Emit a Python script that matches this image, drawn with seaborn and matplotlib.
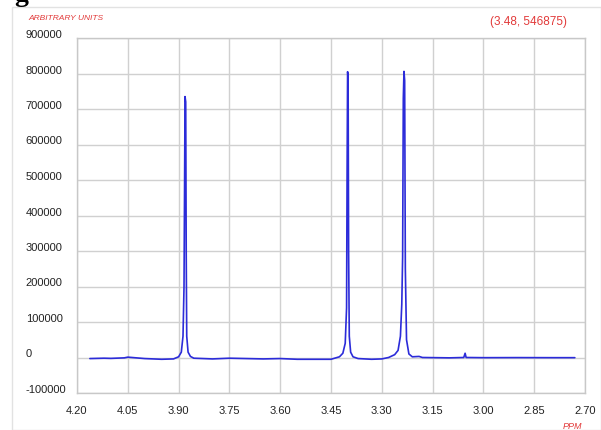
import matplotlib
matplotlib.use("Agg")
import matplotlib.pyplot as plt
from matplotlib.transforms import ScaledTranslation
from matplotlib.patches import Rectangle
import seaborn as sns
import pandas as pd

# ---- data ----
ppm = [4.162, 4.12, 4.10, 4.06, 4.05, 4.00, 3.95, 3.915, 3.90, 3.892, 3.887, 3.884,
       3.8825, 3.881, 3.879, 3.8775, 3.876, 3.872, 3.865, 3.855, 3.80, 3.75, 3.70,
       3.65, 3.60, 3.55, 3.50, 3.45, 3.425, 3.415, 3.408, 3.404, 3.4025, 3.401,
       3.3995, 3.398, 3.396, 3.392, 3.385, 3.37, 3.33, 3.30, 3.28, 3.262, 3.252,
       3.245, 3.241, 3.2385, 3.2365, 3.2345, 3.2325, 3.2305, 3.227, 3.22, 3.21,
       3.19, 3.18, 3.10, 3.058, 3.054, 3.051, 3.00, 2.90, 2.80, 2.73]
intensity = [-3000, -2000, -2500, -1000, 1000, -3000, -5000, -4000, 2000, 15000,
             60000, 200000, 459000, 735000, 720000, 290000, 60000, 15000, 3000,
             -2000, -4000, -2000, -3000, -4000, -3000, -5000, -5000, -5000, 2000,
             12000, 40000, 140000, 515000, 805000, 790000, 300000, 60000, 15000,
             2000, -3000, -5000, -4000, 0, 8000, 20000, 60000, 150000, 282000,
             730000, 806000, 780000, 250000, 50000, 10000, 2000, 3000, 0, -1000,
             0, 12000, 0, -500, -300, -500, -500]

yticks = [-100000, 0, 100000, 200000, 300000, 400000, 500000, 600000, 700000, 800000, 900000]
xticks = [4.20, 4.05, 3.90, 3.75, 3.60, 3.45, 3.30, 3.15, 3.00, 2.85, 2.70]
xticklabels = ["4.20", "4.05", "3.90", "3.75", "3.60", "3.45", "3.30", "3.15", "3.00", "2.85", "2.70"]

df = pd.DataFrame({"ppm": ppm, "intensity": intensity})

sns.set_style("white")
plt.rcParams["font.family"] = ["Liberation Sans", "DejaVu Sans"]

W, H = 601, 431
fig = plt.figure(figsize=(W / 100, H / 100), dpi=100)
fig.patch.set_facecolor("white")

# outer frame
fig.patches.append(Rectangle((12 / W, 0), 1 - 12 / W, 1 - 8 / H, transform=fig.transFigure,
                             fill=False, edgecolor="#e2e2e2", linewidth=1.0))
# cut-off caption glyph at the very top
fig.text(14 / W, 1 - 1 / H, "g", fontsize=20, family="Liberation Serif", fontweight="bold",
         ha="left", va="baseline", color="black")

ax = fig.add_axes([77 / W, 37 / H, (585 - 77) / W, (394 - 39) / H])

sns.lineplot(data=df, x="ppm", y="intensity", ax=ax, sort=False, estimator=None,
             color="#2b2bd9", linewidth=1.2)

ax.set_xlim(4.20, 2.70)
ax.set_ylim(-100000, 900000)
ax.set_xticks(xticks)
ax.set_xticklabels(xticklabels)
ax.set_yticks(yticks)
ax.set_yticklabels([str(v) for v in yticks])
ax.set_xlabel("")
ax.set_ylabel("")
ax.grid(True, color="#d0d0d0", linewidth=1.0)
ax.set_axisbelow(True)
for s in ax.spines.values():
    s.set_color("#c8c8c8")
    s.set_linewidth(1.0)

ax.tick_params(axis="both", length=0, labelsize=8, labelcolor="#222222")
ax.tick_params(axis="x", pad=9)
ax.tick_params(axis="y", pad=37)
for lab in ax.get_yticklabels():
    lab.set_horizontalalignment("left")
    lab.set_transform(lab.get_transform() + ScaledTranslation(0, 5 / 100, fig.dpi_scale_trans))

fig.text(28 / W, 1 - 18 / H, "ARBITRARY UNITS", color="#e23a3a", fontsize=6,
         style="italic", ha="left", va="center")
fig.text(567 / W, 1 - 22 / H, "(3.48, 546875)", color="#e23a3a", fontsize=8.5,
         ha="right", va="center")
fig.text(572 / W, 1 - 427 / H, "PPM", color="#e23a3a", fontsize=6.5,
         style="italic", ha="center", va="center")

fig.savefig("out.png", dpi=100, facecolor="white")
